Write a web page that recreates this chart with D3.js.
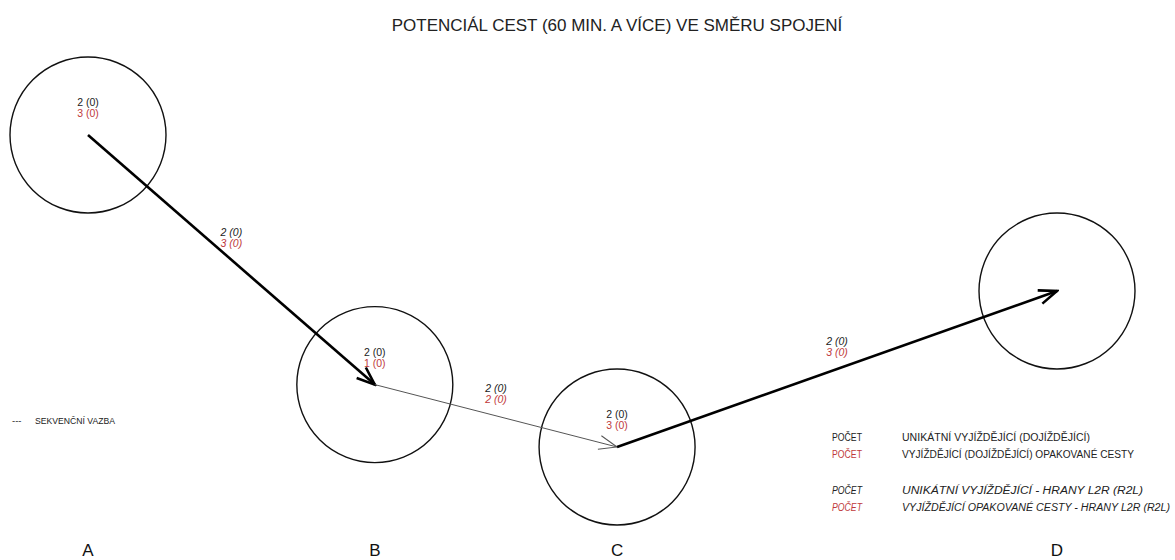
<!DOCTYPE html>
<html>
<head>
<meta charset="utf-8">
<script src="https://cdn.jsdelivr.net/npm/d3@7"></script>
<style>
  body { margin: 0; background: #fff; }
  text { font-family: "Liberation Sans", Arial, sans-serif; }
</style>
</head>
<body>
<div id="viz"></div>
<script>
// nodes (stations) and their place in the chart's own units
var nodes = ["A", "B", "C", "D"];
var nodePos = [0, 29.6, 54.6, 100];     // along the line
var nodeLevel = [10, 2.0, 0, 5.0];      // height level
var nodeUnique = ["2 (0)", "2 (0)", "2 (0)", ""];
var nodeRepeat = ["3 (0)", "1 (0)", "3 (0)", ""];

// edges between consecutive nodes
var edgeFrom = [0, 1, 2];
var edgeTo = [1, 2, 3];
var edgeUnique = ["2 (0)", "2 (0)", "2 (0)"];
var edgeRepeat = ["3 (0)", "2 (0)", "3 (0)"];
var edgeWeight = [3, 2, 3];

var title = "POTENCIÁL CEST (60 MIN. A VÍCE) VE SMĚRU SPOJENÍ";
var legendLeft = "SEKVENČNÍ VAZBA";
var legendKeys = ["POČET", "POČET", "POČET", "POČET"];
var legendTexts = ["UNIKÁTNÍ VYJÍŽDĚJÍCÍ (DOJÍŽDĚJÍCÍ)",
                   "VYJÍŽDĚJÍCÍ (DOJÍŽDĚJÍCÍ) OPAKOVANÉ CESTY",
                   "UNIKÁTNÍ VYJÍŽDĚJÍCÍ  - HRANY L2R (R2L)",
                   "VYJÍŽDĚJÍCÍ OPAKOVANÉ CESTY - HRANY L2R (R2L)"];

var dark = "#222", red = "#c0393b";

var svg = d3.select("#viz")
  .append("svg")
  .attr("width", 1175)
  .attr("height", 560);

var x = d3.scaleLinear().domain([0, 100]).range([88, 1057]);
var y = d3.scaleLinear().domain([0, 10]).range([447, 135]);
var w = d3.scaleLinear().domain([2, 3]).range([1, 2.6]);
var c = d3.scaleOrdinal().domain([2, 3]).range(["#555", "#000"]);

svg.append("text")
  .attr("x", 617).attr("y", 31)
  .attr("text-anchor", "middle")
  .attr("font-size", 17)
  .attr("fill", dark)
  .text(title);

// circles
svg.selectAll("circle.node")
  .data(nodes)
  .enter().append("circle")
  .attr("class", "node")
  .attr("cx", function(d, i) { return x(nodePos[i]); })
  .attr("cy", function(d, i) { return y(nodeLevel[i]); })
  .attr("r", 78)
  .attr("fill", "none")
  .attr("stroke", "#111")
  .attr("stroke-width", 1.4);

// arrow markers, one per edge
var defs = svg.append("defs");
edgeFrom.forEach(function(f, i) {
  defs.append("marker")
    .attr("id", "arrow" + i)
    .attr("markerUnits", "userSpaceOnUse")
    .attr("viewBox", "-20 -10 22 20")
    .attr("refX", 0).attr("refY", 0)
    .attr("markerWidth", 22).attr("markerHeight", 20)
    .attr("orient", "auto")
    .append("path")
    .attr("d", "M-18,-7 L0,0 L-18,7")
    .attr("fill", "none")
    .attr("stroke", c(edgeWeight[i]))
    .attr("stroke-width", w(edgeWeight[i]));
});

svg.selectAll("line.edge")
  .data(edgeFrom)
  .enter().append("line")
  .attr("class", "edge")
  .attr("x1", function(d) { return x(nodePos[d]); })
  .attr("y1", function(d) { return y(nodeLevel[d]); })
  .attr("x2", function(d, i) { return x(nodePos[edgeTo[i]]); })
  .attr("y2", function(d, i) { return y(nodeLevel[edgeTo[i]]); })
  .attr("stroke", function(d, i) { return c(edgeWeight[i]); })
  .attr("stroke-width", function(d, i) { return w(edgeWeight[i]); })
  .attr("marker-end", function(d, i) { return "url(#arrow" + i + ")"; });

// node labels
var nl = svg.selectAll("g.nlab")
  .data(nodes)
  .enter().append("g")
  .attr("class", "nlab")
  .attr("transform", function(d, i) {
    return "translate(" + x(nodePos[i]) + "," + y(nodeLevel[i]) + ")";
  });
nl.append("text")
  .attr("y", -29).attr("text-anchor", "middle")
  .attr("font-size", 10.5).attr("fill", dark)
  .text(function(d, i) { return nodeUnique[i]; });
nl.append("text")
  .attr("y", -18).attr("text-anchor", "middle")
  .attr("font-size", 10.5).attr("fill", red)
  .text(function(d, i) { return nodeRepeat[i]; });

// edge labels
var el = svg.selectAll("g.elab")
  .data(edgeFrom)
  .enter().append("g")
  .attr("class", "elab")
  .attr("transform", function(d, i) {
    var mx = (x(nodePos[d]) + x(nodePos[edgeTo[i]])) / 2;
    var my = (y(nodeLevel[d]) + y(nodeLevel[edgeTo[i]])) / 2;
    return "translate(" + mx + "," + my + ")";
  });
el.append("text")
  .attr("y", -24).attr("text-anchor", "middle")
  .attr("font-size", 10.5).attr("font-style", "italic").attr("fill", dark)
  .text(function(d, i) { return edgeUnique[i]; });
el.append("text")
  .attr("y", -13).attr("text-anchor", "middle")
  .attr("font-size", 10.5).attr("font-style", "italic").attr("fill", red)
  .text(function(d, i) { return edgeRepeat[i]; });

// bottom axis of node names
svg.selectAll("text.axis")
  .data(nodes)
  .enter().append("text")
  .attr("class", "axis")
  .attr("x", function(d, i) { return x(nodePos[i]); })
  .attr("y", 556)
  .attr("text-anchor", "middle")
  .attr("font-size", 17)
  .attr("fill", "#111")
  .text(function(d) { return d; });

// left legend
svg.append("text")
  .attr("x", 12).attr("y", 424)
  .attr("font-size", 9.5).attr("fill", dark)
  .text("---");
svg.append("text")
  .attr("x", 35).attr("y", 424)
  .attr("font-size", 9.5).attr("fill", dark)
  .attr("textLength", 80).attr("lengthAdjust", "spacingAndGlyphs")
  .text(legendLeft);

// right legend
var legY = [441, 458, 494, 511];
var legCol = [dark, red, dark, red];
var legItal = ["normal", "normal", "italic", "italic"];
var legLen = [188, 232, 241, 268];
legendKeys.forEach(function(k, i) {
  svg.append("text")
    .attr("x", 832).attr("y", legY[i])
    .attr("font-size", 10).attr("fill", legCol[i])
    .attr("font-style", legItal[i])
    .attr("textLength", 30).attr("lengthAdjust", "spacingAndGlyphs")
    .text(k);
  svg.append("text")
    .attr("x", 902).attr("y", legY[i])
    .attr("font-size", 10).attr("fill", dark)
    .attr("font-style", legItal[i])
    .attr("textLength", legLen[i]).attr("lengthAdjust", "spacingAndGlyphs")
    .text(legendTexts[i]);
});
</script>
</body>
</html>
